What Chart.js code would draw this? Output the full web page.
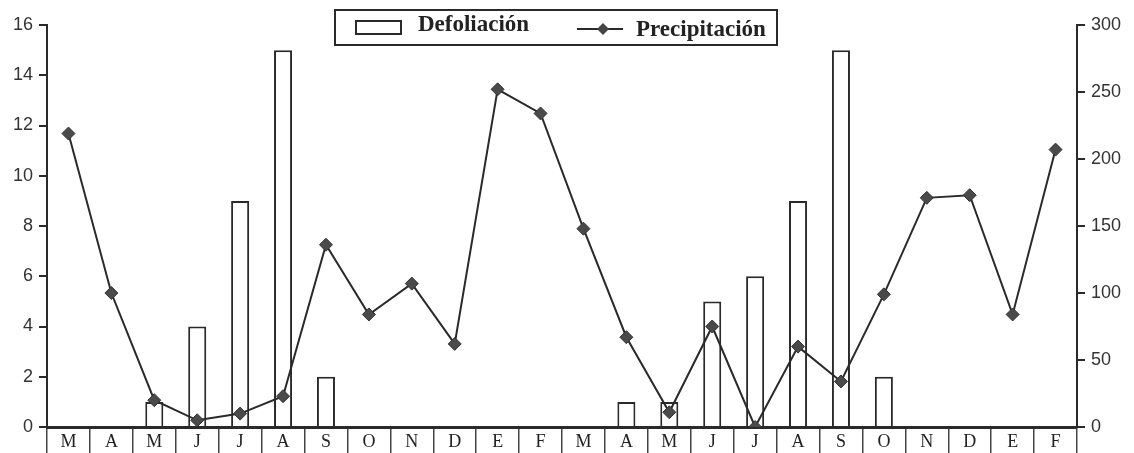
<!DOCTYPE html>
<html><head><meta charset="utf-8">
<script src="https://cdn.jsdelivr.net/npm/chart.js@4.4.1/dist/chart.umd.min.js"></script>
<style>html,body{margin:0;padding:0;background:#fff}#wrap{width:1134px;height:453px}</style>
</head><body><div id="wrap"><canvas id="c" width="1134" height="453"></canvas></div>
<script>
const months = ['M','A','M','J','J','A','S','O','N','D','E','F','M','A','M','J','J','A','S','O','N','D','E','F'];
const defoliacion = [0,0,1,4,9,15,2,0,0,0,0,0,0,1,1,5,6,9,15,2,0,0,0,0];
const precipitacion = [219,100,20,5,10,23,136,84,107,62,252,234,148,67,11,75,0,60,34,99,171,173,84,207];
const leftTicks = [0,2,4,6,8,10,12,14,16];
const rightTicks = [0,50,100,150,200,250,300];
const seriesNames = ['Defoliación','Precipitación'];

const ink = '#2a2a2a';
const legendPlugin = {
  id: 'boxLegend',
  afterDraw(chart) {
    const ctx = chart.ctx;
    ctx.save();
    ctx.fillStyle = '#fff';
    ctx.fillRect(335, 10, 442, 35);
    ctx.strokeStyle = ink; ctx.lineWidth = 2;
    ctx.strokeRect(335, 10, 442, 35);
    ctx.lineWidth = 2;
    ctx.strokeRect(356, 21, 45, 13);
    ctx.font = 'bold 23px "Liberation Serif"';
    ctx.fillStyle = '#222';
    ctx.textBaseline = 'middle';
    ctx.fillText(seriesNames[0], 418, 25);
    ctx.beginPath(); ctx.moveTo(577, 29); ctx.lineTo(623, 29); ctx.stroke();
    ctx.beginPath();
    ctx.moveTo(603, 23); ctx.lineTo(609, 29); ctx.lineTo(603, 35); ctx.lineTo(597, 29); ctx.closePath();
    ctx.fillStyle = '#444'; ctx.fill();
    ctx.fillStyle = '#222';
    ctx.fillText(seriesNames[1], 636, 30);
    ctx.restore();
  }
};

new Chart(document.getElementById('c'), {
  data: {
    labels: months,
    datasets: [
      { type: 'line', label: seriesNames[1], data: precipitacion, yAxisID: 'y2',
        borderColor: ink, borderWidth: 2, backgroundColor: '#4a4a4a', pointBackgroundColor: '#4a4a4a',
        pointBorderColor: '#333', pointBorderWidth: 1, pointStyle: 'rectRot', pointRadius: 6.5, tension: 0, order: 1 },
      { type: 'bar', label: seriesNames[0], data: defoliacion, yAxisID: 'y',
        backgroundColor: '#fff', borderColor: ink, borderWidth: 2, borderSkipped: 'bottom',
        barPercentage: 0.42, categoryPercentage: 1, order: 2 }
    ]
  },
  options: {
    responsive: false, animation: false, events: [],
    layout: { padding: { top: 25, left: 0, right: 0, bottom: 0 } },
    plugins: { legend: { display: false }, tooltip: { enabled: false } },
    scales: {
      x: {
        offset: true,
        grid: { offset: true, drawOnChartArea: false, tickLength: 26, color: '#444', lineWidth: 1.5 },
        border: { color: ink, width: 3 },
        ticks: { color: '#222', font: { family: 'Liberation Serif', size: 18 }, padding: -22, maxRotation: 0, autoSkip: false },
        afterFit(s) { s.height = 26; }
      },
      y: {
        position: 'left', min: 0, max: 16,
        afterBuildTicks(s) { s.ticks = leftTicks.map(v => ({ value: v })); },
        grid: { drawOnChartArea: false, tickLength: 8, color: ink, lineWidth: 2 },
        border: { color: ink, width: 2 },
        ticks: { color: '#333', font: { family: 'Liberation Sans', size: 18 }, padding: 6 },
        afterFit(s) { s.width = 47; }
      },
      y2: {
        position: 'right', min: 0, max: 300,
        afterBuildTicks(s) { s.ticks = rightTicks.map(v => ({ value: v })); },
        grid: { drawOnChartArea: false, tickLength: 8, color: ink, lineWidth: 2 },
        border: { color: ink, width: 2 },
        ticks: { color: '#333', font: { family: 'Liberation Sans', size: 18 }, padding: 6 },
        afterFit(s) { s.width = 57; }
      }
    }
  },
  plugins: [legendPlugin]
});
</script></body></html>
